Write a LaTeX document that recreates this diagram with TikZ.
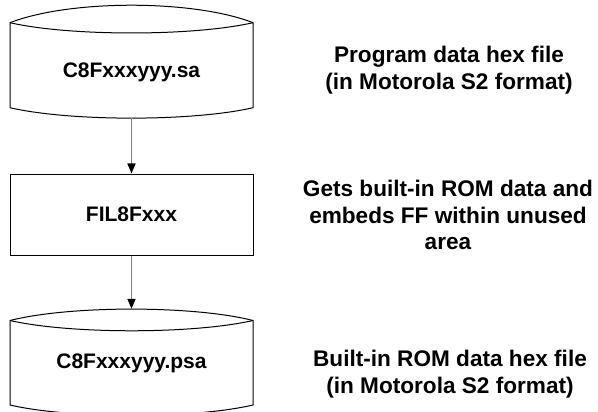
\documentclass[tikz,border=0pt]{standalone}
\usepackage{fontspec}
\setmainfont{Liberation Sans}
\usetikzlibrary{arrows.meta}
\tikzset{
  outline/.style={draw=black, line width=1pt},
  diskarea/.style={inner sep=0pt, minimum width=243pt, minimum height=#1},
  procbox/.style={outline, inner sep=0pt, minimum width=243pt, minimum height=81pt,
    font=\bfseries\fontsize{21}{25}\selectfont},
  filename/.style={inner sep=0pt, font=\bfseries\fontsize{21}{25}\selectfont},
  note/.style={align=center, inner sep=0pt, font=\bfseries\fontsize{22.6}{26.7}\selectfont},
  conn/.style={draw=black!50, line width=1.5pt, -{Triangle[length=10pt,width=8pt,black]}}
}
\begin{document}
\begin{tikzpicture}[x=1pt,y=-1pt]
\useasboundingbox (0,0) rectangle (598,412);

% source file (stored data shape)
\node[diskarea=113pt] (src) at (131.5,61.5) {};
\draw[outline] (10,22.7) .. controls (70,-0.6) and (193,-0.6) .. (253,22.7)
  -- (253,107.7) .. controls (193,121.6) and (70,121.6) .. (10,107.7) -- cycle;
\draw[outline] (10,22.7) .. controls (70,36.4) and (193,36.4) .. (253,22.7);
\node[filename] (srcname) at (131.5,72.5) {C8Fxxxyyy.sa};

% conversion tool
\node[procbox] (fil) at (131.5,214.5) {FIL8Fxxx};

% output file (stored data shape)
\node[diskarea=107pt] (out) at (131.5,362.5) {};
\draw[outline] (10,320.5) .. controls (70,305.3) and (193,305.3) .. (253,320.5)
  -- (253,405) .. controls (193,419) and (70,419) .. (10,405) -- cycle;
\draw[outline] (10,320.5) .. controls (70,334.2) and (193,334.2) .. (253,320.5);
\node[filename] (outname) at (131.5,363) {C8Fxxxyyy.psa};

% flow
\draw[conn] (src.south) -- (fil.north);
\draw[conn] (fil.south) -- (out.north);

% descriptions
\node[note] (n1) at (449,70) {Program data hex file\\(in Motorola S2 format)};
\node[note] (n2) at (448,215) {Gets built-in ROM data and\\embeds FF within unused\\area};
\node[note] (n3) at (450,374) {Built-in ROM data hex file\\(in Motorola S2 format)};
\end{tikzpicture}
\end{document}
